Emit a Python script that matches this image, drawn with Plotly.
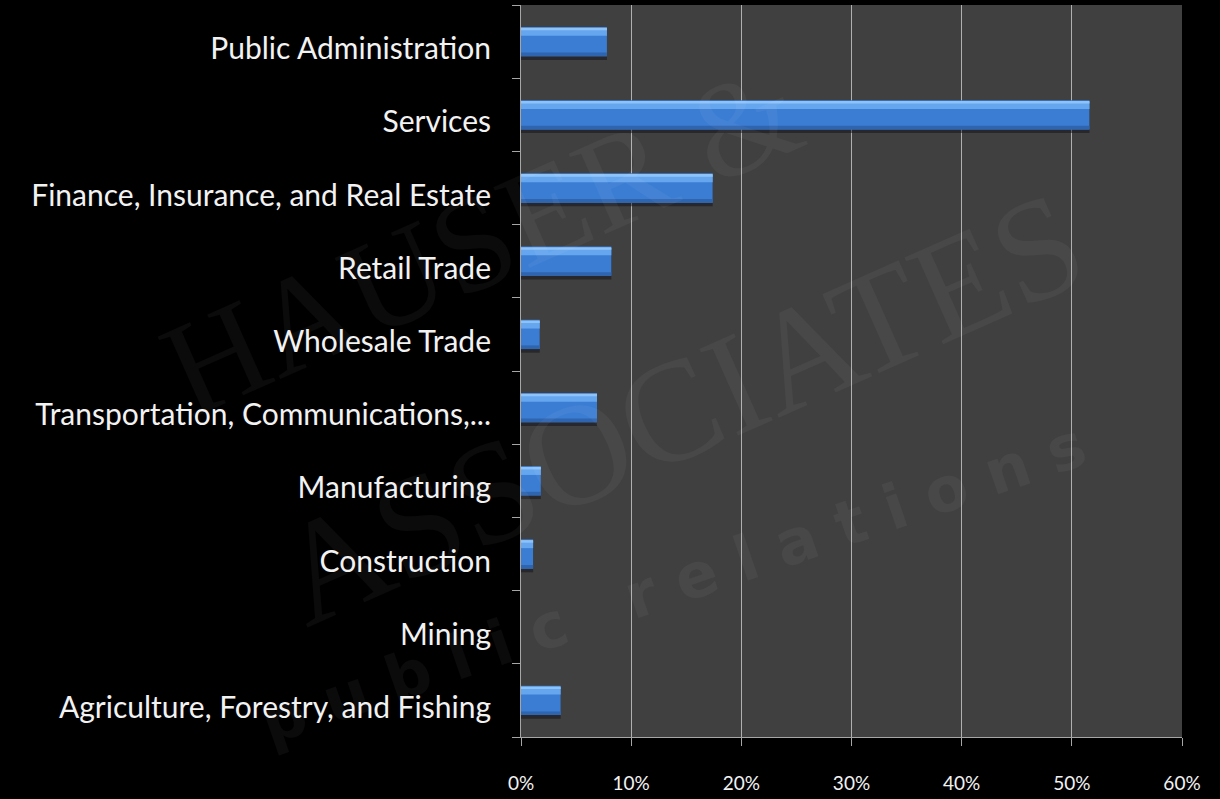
import plotly.graph_objects as go

# Industry categories, listed bottom to top
industries = [
    "Agriculture, Forestry, and Fishing",
    "Mining",
    "Construction",
    "Manufacturing",
    "Transportation, Communications,...",
    "Wholesale Trade",
    "Retail Trade",
    "Finance, Insurance, and Real Estate",
    "Services",
    "Public Administration",
]

# Share of employment (fraction)
share = [0.036, 0.0, 0.011, 0.018, 0.069, 0.017, 0.082, 0.174, 0.516, 0.078]

x_ticks = [0, 0.1, 0.2, 0.3, 0.4, 0.5, 0.6]
x_tick_labels = ["0%", "10%", "20%", "30%", "40%", "50%", "60%"]

fig = go.Figure()

# soft drop shadow beneath each bar
fig.add_trace(go.Bar(
    y=industries, x=share, orientation="h",
    width=0.44, offset=-0.25,
    marker=dict(color="rgba(10,10,20,0.45)", line=dict(width=0)),
    hoverinfo="skip", showlegend=False,
))
# bar body
fig.add_trace(go.Bar(
    y=industries, x=share, orientation="h",
    width=0.40, offset=-0.20,
    marker=dict(color="#3b7dd3", line=dict(width=0)),
    showlegend=False,
))
# darker lower edge
fig.add_trace(go.Bar(
    y=industries, x=share, orientation="h",
    width=0.05, offset=-0.20,
    marker=dict(color="#2f64ae", line=dict(width=0)),
    hoverinfo="skip", showlegend=False,
))
# glossy upper band
fig.add_trace(go.Bar(
    y=industries, x=share, orientation="h",
    width=0.10, offset=0.08,
    marker=dict(color="#66a6ee", line=dict(width=0)),
    hoverinfo="skip", showlegend=False,
))
# bright top rim
fig.add_trace(go.Bar(
    y=industries, x=share, orientation="h",
    width=0.035, offset=0.155,
    marker=dict(color="#8ec3fa", line=dict(width=0)),
    hoverinfo="skip", showlegend=False,
))

# faint agency watermark
wm_color = "rgba(255,255,255,0.045)"
fig.add_annotation(
    x=-0.06, y=0.68, xref="paper", yref="paper", xanchor="center", yanchor="middle",
    text="HAUSER &", textangle=-24, showarrow=False,
    font=dict(family="Liberation Serif", size=135, color=wm_color),
)
fig.add_annotation(
    x=0.24, y=0.45, xref="paper", yref="paper", xanchor="center", yanchor="middle",
    text="ASSOCIATES", textangle=-24, showarrow=False,
    font=dict(family="Liberation Serif", size=145, color=wm_color),
)
fig.add_annotation(
    x=0.23, y=0.21, xref="paper", yref="paper", xanchor="center", yanchor="middle",
    text="p u b l i c   r e l a t i o n s", textangle=-19, showarrow=False,
    font=dict(family="DejaVu Sans", size=62, color=wm_color, weight="bold"),
)

axis_gray = "#a6a6a6"

fig.update_layout(
    width=1220, height=799,
    margin=dict(l=521, r=38, t=5, b=52),
    paper_bgcolor="#000000",
    plot_bgcolor="#404040",
    barmode="overlay",
    font=dict(family="Lato", color="#f2f2f2"),
    xaxis=dict(
        range=[0, 0.6],
        tickvals=x_ticks, ticktext=x_tick_labels,
        showgrid=True, gridcolor="#b0b0b0", gridwidth=1,
        showline=True, linecolor=axis_gray, linewidth=1,
        ticks="outside", ticklen=8, tickcolor=axis_gray,
        tickfont=dict(family="Lato", size=19, color="#f2f2f2"),
        ticklabelstandoff=21,
        zeroline=False, fixedrange=True,
    ),
    yaxis=dict(
        type="category",
        categoryorder="array", categoryarray=industries,
        range=[-0.5, len(industries) - 0.5],
        showgrid=False,
        showline=True, linecolor=axis_gray, linewidth=1,
        ticks="outside", ticklen=8, tickcolor=axis_gray,
        tickson="boundaries",
        tickfont=dict(family="Lato", size=30, color="#f2f2f2"),
        ticklabelstandoff=23,
        ticklabelshift=7,
        fixedrange=True,
    ),
)

fig.write_html("out.html")
